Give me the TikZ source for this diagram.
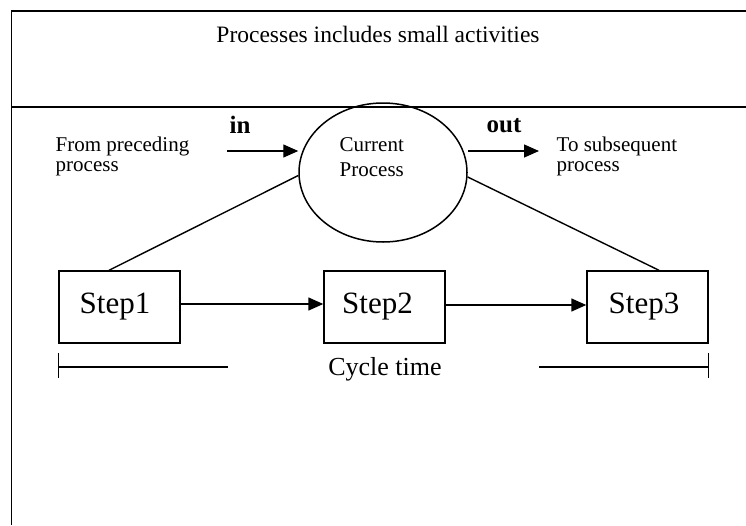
\documentclass[tikz,border=0pt]{standalone}
\usepackage{fontspec}
\setmainfont{Liberation Serif}
\usetikzlibrary{shapes.geometric,arrows.meta}

\begin{document}
\begin{tikzpicture}[x=1pt, y=-1pt, line width=1.4pt,
  frameline/.style={line width=1.8pt},
  stepbox/.style={draw, rectangle, minimum width=121pt, minimum height=72pt, inner sep=0pt},
  txt/.style={inner sep=0pt, font=\fontsize{21}{24}\selectfont},
  steptxt/.style={inner sep=0pt, anchor=base, font=\fontsize{31}{36}\selectfont},
  flowlbl/.style={inner sep=0pt, anchor=base west, font=\fontsize{25}{30}\selectfont\bfseries},
  arr/.style={-{Triangle[length=15pt,width=13pt]}}]

\useasboundingbox (0,0) rectangle (746,525);

% outer frame with the title band
\draw[frameline] (746,11) -- (11.5,11) -- (11.5,525);
\draw[frameline] (11.5,107) -- (746,107);
\node[inner sep=0pt, anchor=base, font=\fontsize{23.5}{28}\selectfont] (title) at (378,42.5)
  {Processes includes small activities};

% current process
\node[draw, ellipse, line width=1.5pt, minimum width=168pt, minimum height=139pt, inner sep=0pt] (e) at (383,172.5) {};
\node[txt, anchor=base west] (cur1) at (339,151) {Current};
\node[txt, anchor=base west] (cur2) at (339,176) {Process};

% incoming flow
\node[txt, anchor=base west] (from1) at (55,151) {From preceding};
\node[txt, anchor=base west] (from2) at (55,171) {process};
\node[flowlbl] (in) at (229,133) {in};
\coordinate (inS) at (227,151);
\draw[arr] (inS) -- (inS -| e.west);

% outgoing flow
\node[txt, anchor=base west] (to1) at (556,151) {To subsequent};
\node[txt, anchor=base west] (to2) at (556,171) {process};
\node[flowlbl] (out) at (486,132) {out};
\coordinate (outE) at (539,151);
\draw[arr] (outE -| e.east) -- (outE);

% steps
\node[stepbox] (s1) at (119.5,307) {};
\node[stepbox] (s2) at (384.5,307) {};
\node[stepbox] (s3) at (647.5,307) {};
\node[steptxt] (t1) at (115,313) {Step1};
\node[steptxt] (t2) at (377.5,313) {Step2};
\node[steptxt] (t3) at (644,313) {Step3};

\draw (e.182) -- ([xshift=-10.5pt]s1.north);
\draw (e.-3) -- ([xshift=11.5pt]s3.north);
\draw[arr] ([yshift=3pt]s1.east) -- ([yshift=3pt]s2.west);
\draw[arr] ([yshift=2pt]s2.east) -- ([yshift=2pt]s3.west);

% cycle time span
\coordinate (cl) at (s1.west |- 0,367);
\coordinate (cr) at (s3.east |- 0,367);
\coordinate (clE) at (228,367);
\coordinate (crS) at (539,367);
\draw (cl) -- (clE);
\draw (crS) -- (cr);
\draw ([yshift=14pt]cl) -- ([yshift=-11pt]cl);
\draw ([yshift=14pt]cr) -- ([yshift=-11pt]cr);
\node[inner sep=0pt, anchor=base, font=\fontsize{26}{30}\selectfont] (cyc) at (385,375.5) {Cycle time};
\end{tikzpicture}
\end{document}
